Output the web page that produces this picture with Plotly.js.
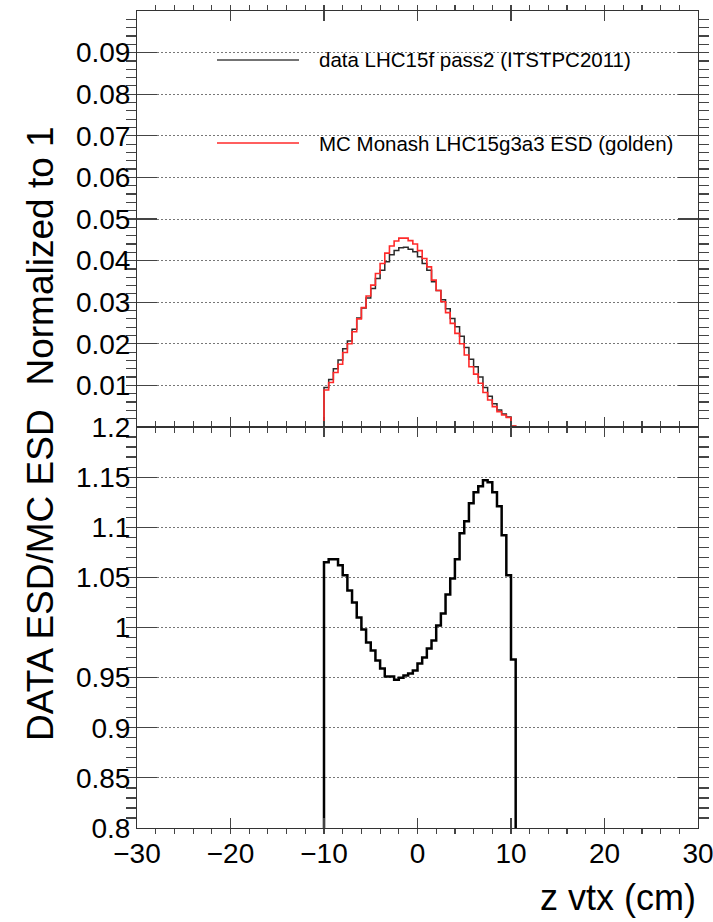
<!DOCTYPE html>
<html>
<head>
<meta charset="utf-8">
<script src="https://cdn.plot.ly/plotly-3.0.1.min.js"></script>
<style>
html,body{margin:0;padding:0;background:#fff;}
#chart{width:713px;height:922px;}
</style>
</head>
<body>
<div id="chart"></div>
<script>
// bin edges of z vtx (cm)
const zEdges = [-10, -9.5, -9, -8.5, -8, -7.5, -7, -6.5, -6, -5.5, -5, -4.5, -4, -3.5, -3, -2.5, -2, -1.5, -1, -0.5,
  0, 0.5, 1, 1.5, 2, 2.5, 3, 3.5, 4, 4.5, 5, 5.5, 6, 6.5, 7, 7.5, 8, 8.5, 9, 9.5, 10, 10.5];

// data LHC15f pass2 (ITSTPC2011), normalized to 1
const dataValues = [0.0095, 0.0114, 0.0140, 0.0161, 0.0188, 0.0207, 0.0235, 0.0262, 0.0286, 0.0310,
  0.0333, 0.0357, 0.0377, 0.0397, 0.0414, 0.0424, 0.0431, 0.0432, 0.0427, 0.0421,
  0.0409, 0.0393, 0.0377, 0.0349, 0.0328, 0.0306, 0.0284, 0.0261, 0.0241, 0.0218,
  0.0191, 0.0163, 0.0145, 0.0120, 0.0095, 0.0074, 0.0056, 0.0041, 0.0031, 0.0024, 0.0002];

// MC Monash LHC15g3a3 ESD (golden), normalized to 1
const mcValues = [0.0089, 0.0107, 0.0131, 0.0151, 0.0179, 0.0200, 0.0229, 0.0260, 0.0287, 0.0315,
  0.0341, 0.0369, 0.0393, 0.0418, 0.0435, 0.0447, 0.0454, 0.0454, 0.0448, 0.0440,
  0.0424, 0.0405, 0.0385, 0.0353, 0.0328, 0.0301, 0.0275, 0.0249, 0.0225, 0.0200,
  0.0173, 0.0145, 0.0127, 0.0105, 0.0083, 0.0065, 0.0049, 0.0037, 0.0029, 0.0023, 0.0002];

// DATA ESD / MC ESD
const ratioValues = [1.065, 1.068, 1.068, 1.062, 1.052, 1.037, 1.025, 1.010, 0.998, 0.985,
  0.977, 0.967, 0.959, 0.951, 0.951, 0.948, 0.950, 0.952, 0.954, 0.957,
  0.964, 0.970, 0.979, 0.987, 1.002, 1.014, 1.033, 1.049, 1.068, 1.094,
  1.106, 1.124, 1.135, 1.141, 1.147, 1.145, 1.135, 1.121, 1.092, 1.052, 0.968];

const xTickVals = [-30, -20, -10, 0, 10, 20, 30];
const xTickText = ["\u221230", "\u221220", "\u221210", "0", "10", "20", "30"];
const topTickVals = [0.01, 0.02, 0.03, 0.04, 0.05, 0.06, 0.07, 0.08, 0.09];
const topTickText = ["0.01", "0.02", "0.03", "0.04", "0.05", "0.06", "0.07", "0.08", "0.09"];
const botTickVals = [0.8, 0.85, 0.9, 0.95, 1, 1.05, 1.1, 1.15, 1.2];
const botTickText = ["0.8", "0.85", "0.9", "0.95", "1", "1.05", "1.1", "1.15", "1.2"];

const legendLabels = ["data LHC15f pass2 (ITSTPC2011)", "MC Monash LHC15g3a3 ESD (golden)"];

function stepXY(edges, vals) {
  const x = [-30], y = [0];
  for (let i = 0; i < vals.length; i++) { x.push(edges[i]); y.push(vals[i]); }
  x.push(edges[edges.length - 1]); y.push(0);
  x.push(30); y.push(0);
  return {x, y};
}

const dStep = stepXY(zEdges, dataValues);
const mStep = stepXY(zEdges, mcValues);
const rStep = stepXY(zEdges, ratioValues);

const FONT = "Liberation Sans, Arial, Helvetica, sans-serif";

const traces = [
  {x: dStep.x, y: dStep.y, xaxis: 'x', yaxis: 'y', mode: 'lines', line: {shape: 'hv', color: '#2a2a2a', width: 1.5}, showlegend: false, hoverinfo: 'skip'},
  {x: mStep.x, y: mStep.y, xaxis: 'x', yaxis: 'y', mode: 'lines', line: {shape: 'hv', color: '#ff2a2a', width: 1.6}, showlegend: false, hoverinfo: 'skip'},
  {x: rStep.x, y: rStep.y, xaxis: 'x2', yaxis: 'y2', mode: 'lines', line: {shape: 'hv', color: '#000000', width: 2.5}, showlegend: false, hoverinfo: 'skip'}
];

const split = 401 / 817;
const axCommon = {
  showline: true, linecolor: '#333', linewidth: 1, mirror: 'allticks',
  ticks: 'inside', tickcolor: '#444', tickwidth: 1.2,
  zeroline: false, tickfont: {family: FONT, size: 28, color: '#000'}
};

const layout = {
  width: 713, height: 922,
  margin: {l: 137, r: 15, t: 11, b: 94},
  paper_bgcolor: '#fff', plot_bgcolor: '#fff',
  showlegend: false,
  font: {family: FONT, color: '#000'},
  xaxis: Object.assign({}, axCommon, {
    domain: [0, 1], anchor: 'y', range: [-30, 30], tickmode: 'array', tickvals: xTickVals, ticktext: xTickText,
    ticklen: 10, showticklabels: false, showgrid: false, layer: 'below traces',
    minor: {dtick: 2, tick0: -30, ticklen: 5, tickcolor: '#444', showgrid: false}
  }),
  yaxis: Object.assign({}, axCommon, {
    domain: [split, 1], anchor: 'x', range: [0, 0.1], tickmode: 'array',
    tickvals: topTickVals, ticktext: topTickText, ticklen: 20,
    showgrid: true, gridcolor: '#777', griddash: '2px,2px', gridwidth: 1,
    minor: {dtick: 0.002, tick0: 0, ticklen: 10, tickcolor: '#444', showgrid: false}
  }),
  xaxis2: Object.assign({}, axCommon, {
    domain: [0, 1], anchor: 'y2', range: [-30, 30], tickmode: 'array', tickvals: xTickVals, ticktext: xTickText,
    ticklen: 10, showticklabels: true, showgrid: false, ticklabeloverflow: 'allow',
    minor: {dtick: 2, tick0: -30, ticklen: 5, tickcolor: '#444', showgrid: false}
  }),
  yaxis2: Object.assign({}, axCommon, {
    domain: [0, split], anchor: 'x2', range: [0.8, 1.2], tickmode: 'array',
    tickvals: botTickVals, ticktext: botTickText, ticklen: 20,
    showgrid: true, gridcolor: '#777', griddash: '2px,2px', gridwidth: 1,
    minor: {dtick: 0.01, tick0: 0.8, ticklen: 10, tickcolor: '#444', showgrid: false}
  }),
  shapes: [
    {type: 'line', xref: 'paper', yref: 'paper', x0: (217 - 137) / 561, x1: (299 - 137) / 561, y0: (828 - 60) / 817, y1: (828 - 60) / 817, line: {color: '#444', width: 1.5}},
    {type: 'line', xref: 'paper', yref: 'paper', x0: (217 - 137) / 561, x1: (299 - 137) / 561, y0: (828 - 143) / 817, y1: (828 - 143) / 817, line: {color: '#ff2a2a', width: 1.5}}
  ],
  annotations: [
    {text: legendLabels[0], xref: 'paper', yref: 'paper', x: (317 - 137) / 561, y: (828 - 60) / 817, xanchor: 'left', yanchor: 'middle', showarrow: false, font: {family: FONT, size: 20.5, color: '#000'}},
    {text: legendLabels[1], xref: 'paper', yref: 'paper', x: (317 - 137) / 561, y: (828 - 143) / 817, xanchor: 'left', yanchor: 'middle', showarrow: false, font: {family: FONT, size: 20.5, color: '#000'}},
    {text: 'Normalized to 1', xref: 'paper', yref: 'paper', x: (40 - 137) / 561, y: (828 - 256.5) / 817, xanchor: 'center', yanchor: 'middle', textangle: -90, showarrow: false, font: {family: FONT, size: 37, color: '#000'}},
    {text: 'DATA ESD/MC ESD', xref: 'paper', yref: 'paper', x: (40 - 137) / 561, y: (828 - 575) / 817, xanchor: 'center', yanchor: 'middle', textangle: -90, showarrow: false, font: {family: FONT, size: 37, color: '#000'}},
    {text: 'z vtx (cm)', xref: 'paper', yref: 'paper', x: 1, y: (828 - 897) / 817, xanchor: 'right', yanchor: 'middle', showarrow: false, font: {family: FONT, size: 36, color: '#000'}}
  ]
};

Plotly.newPlot('chart', traces, layout, {displayModeBar: false, staticPlot: true});
</script>
</body>
</html>
